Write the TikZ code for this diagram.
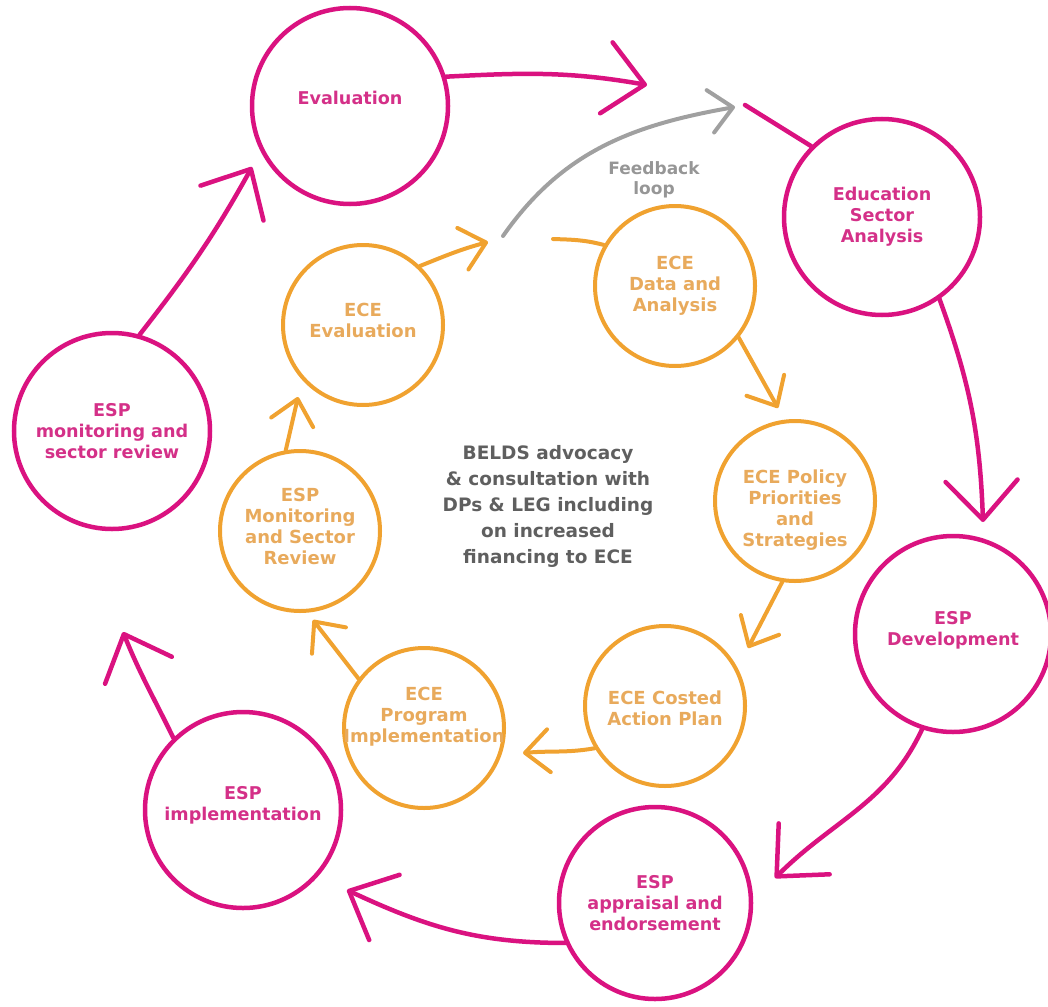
\documentclass[tikz,border=0pt]{standalone}
\usepackage{fontspec}
\setmainfont{DejaVu Sans}
\usetikzlibrary{arrows.meta}
\definecolor{esppink}{RGB}{218,18,128}
\definecolor{espptext}{RGB}{212,48,136}
\definecolor{ecegold}{RGB}{240,162,48}
\definecolor{ecetext}{RGB}{232,170,92}
\definecolor{loopgray}{RGB}{160,160,160}
\definecolor{loopfont}{RGB}{150,150,150}
\definecolor{midgray}{RGB}{95,95,95}

\begin{document}
\begin{tikzpicture}[x=1pt,y=1pt]
\useasboundingbox (0,0) rectangle (1048,-1006);
% outer ESP cycle
\begin{scope}[every node/.style={circle,draw=esppink,line width=4.5pt,minimum size=196pt,inner sep=0pt}]
    \node (eval) at (350,-106) {};
    \node (esa)  at (882,-217) {};
    \node (dev)  at (953,-634) {};
    \node (app)  at (655,-903) [minimum size=192pt] {};
    \node (imp)  at (243,-810) {};
    \node (mon)  at (112,-431) {};
\end{scope}
% inner ECE cycle
\begin{scope}[every node/.style={circle,draw=ecegold,line width=4pt,minimum size=160pt,inner sep=0pt}]
    \node (ceval) at (363,-325) {};
    \node (cdata) at (675,-286) {};
    \node (cpol)  at (795,-501) {};
    \node (ccost) at (665,-706) {};
    \node (cprog) at (424,-728) {};
    \node (cmon)  at (300,-531) {};
\end{scope}
% free ends
\coordinate (t1) at (647,-85);
\coordinate (s1) at (745,-105);
\coordinate (t2) at (983,-522);
\coordinate (t3) at (775,-878);
\coordinate (t4) at (347,-890);
\coordinate (t5) at (123,-632);
\coordinate (t6) at (252,-167);
\coordinate (o1) at (488,-242);
\coordinate (o2) at (553,-239);
\coordinate (o3) at (778,-408);
\coordinate (o4) at (748,-648);
\coordinate (o5) at (523,-753);
\coordinate (o6) at (313,-620);
\coordinate (o7) at (298,-397);
\coordinate (g1) at (503,-236);
\coordinate (g2) at (735,-107);
% labels
\begin{scope}[every node/.style={align=center,text=espptext,font=\fontsize{17.6}{21}\selectfont\bfseries}]
    \node (evalt) at (350,-98) {Evaluation};
    \node (esat)  at (esa) {Education\\Sector\\Analysis};
    \node (devt)  at (953,-630) {ESP\\Development};
    \node (appt)  at (app) {ESP\\appraisal and\\endorsement};
    \node (impt)  at (243,-805) {ESP\\implementation};
    \node (mont)  at (mon) {ESP\\monitoring and\\sector review};
\end{scope}
\begin{scope}[every node/.style={align=center,text=ecetext,font=\fontsize{18}{21}\selectfont\bfseries}]
    \node (cevalt) at (363,-320) {ECE\\Evaluation};
    \node (cdatat) at (cdata) {ECE\\Data and\\Analysis};
    \node (cpolt)  at (795,-510) {ECE Policy\\Priorities\\and\\Strategies};
    \node (ccostt) at (665,-708) {ECE Costed\\Action Plan};
    \node (cprogt) at (424,-717) {ECE\\Program\\Implementation};
    \node (cmont)  at (300,-526) {ESP\\Monitoring\\and Sector\\Review};
\end{scope}
\node (belds) at (548,-506) [align=center,text=midgray,font=\fontsize{18.5}{26}\selectfont\bfseries]
    {BELDS advocacy\\\& consultation with\\DPs \& LEG including\\on increased\\financing to ECE};
\node (fbl) at (654,-180) [align=center,text=loopfont,font=\fontsize{17}{20}\selectfont\bfseries] {Feedback\\loop};
% connectors
\begin{scope}[every edge/.style={draw=esppink,line width=4.5pt,line cap=round,
              -{Straight Barb[length=39pt,width=72pt,round]}}]
    \path (eval.17) edge[out=3,in=170] (t1);
    \path (s1) edge[-] (esa.135);
    \path (esa.-55) edge[out=-70,in=92] (t2);
    \path (dev.-108) edge[out=-115,in=45] (t3);
    \path (app.-156) edge[out=180,in=-25] (t4);
    \path (imp.134) edge[out=116,in=-68] (t5);
    \path (mon.74) edge[out=52,in=-119] (t6);
\end{scope}
\begin{scope}[every edge/.style={draw=ecegold,line width=4pt,line cap=round,
              -{Straight Barb[length=24pt,width=43pt,round]}}]
    \path (ceval.46) edge[out=22,in=195] (o1);
    \path (o2) edge[-,out=-2,in=165] (cdata.150);
    \path (cdata.-39) edge (o3);
    \path (cpol.-99) edge (o4);
    \path (ccost.-149) edge[out=190,in=5] (o5);
    \path (cprog.143) edge (o6);
    \path (cmon.100) edge (o7);
\end{scope}
\path (g1) edge[draw=loopgray,line width=4pt,line cap=round,out=55,in=190,
      -{Straight Barb[length=23pt,width=43pt,round]}] (g2);
\end{tikzpicture}
\end{document}
